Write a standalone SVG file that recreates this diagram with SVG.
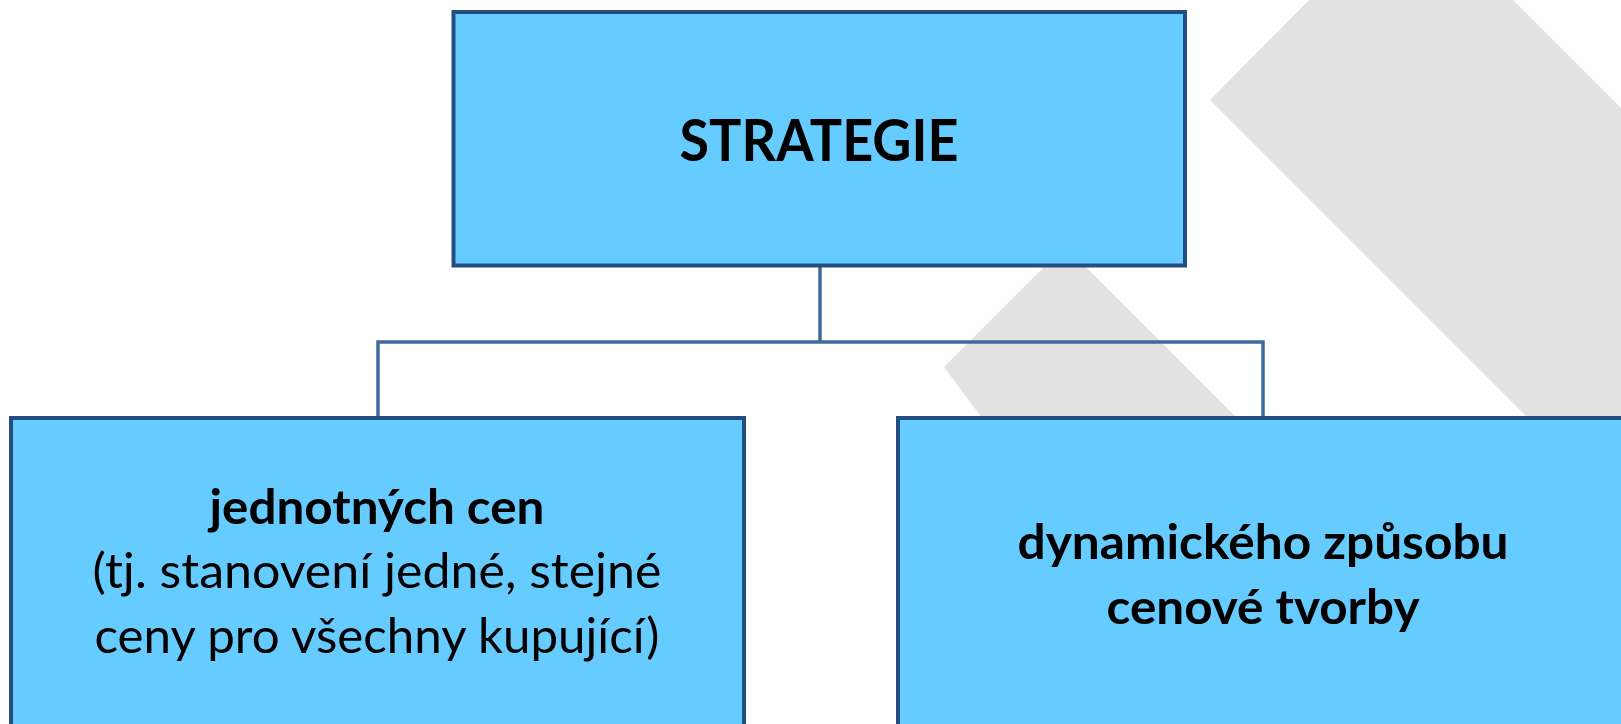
<svg xmlns="http://www.w3.org/2000/svg" width="1621" height="724" viewBox="0 0 1621 724">
<style>
.bg{fill:#e1e2e1}
.box{fill:#66ccff;stroke:#244d80;stroke-width:4}
.conn{fill:none;stroke:#41699b;stroke-width:3.5}
.t{font-family:Lato,"Open Sans",sans-serif;fill:#000;text-anchor:middle}
.b{font-weight:bold}
</style>
<rect width="1621" height="724" fill="#ffffff"/>
<g id="background">
<polygon class="bg" points="1309,0 1513,0 2300,787 2300,1190 1210,100"/>
<polygon class="bg" points="1065,246 1600,781 1400,977 944,367"/>
</g>
<g id="connectors">
<path class="conn" d="M820,265 V342 M378,418 V342 H1263 V418"/>
</g>
<g id="node-strategie">
<rect class="box" x="453.5" y="12" width="731.5" height="253.5"/>
<text class="t b" x="819" y="161" font-size="57" textLength="279" lengthAdjust="spacingAndGlyphs">STRATEGIE</text>
</g>
<g id="node-jednotnych">
<rect class="box" x="11" y="418" width="733" height="400"/>
<text class="t b" x="377" y="524" font-size="48" textLength="335" lengthAdjust="spacingAndGlyphs">jednotných cen</text>
<text class="t" x="377" y="588" font-size="48" textLength="569" lengthAdjust="spacingAndGlyphs">(tj. stanovení jedné, stejné</text>
<text class="t" x="377" y="653" font-size="48" textLength="565" lengthAdjust="spacingAndGlyphs">ceny pro všechny kupující)</text>
</g>
<g id="node-dynamickeho">
<rect class="box" x="898" y="418" width="731" height="400"/>
<text class="t b" x="1263" y="559" font-size="48" textLength="491" lengthAdjust="spacingAndGlyphs">dynamického způsobu</text>
<text class="t b" x="1263" y="624" font-size="48" textLength="313" lengthAdjust="spacingAndGlyphs">cenové tvorby</text>
</g>
</svg>
